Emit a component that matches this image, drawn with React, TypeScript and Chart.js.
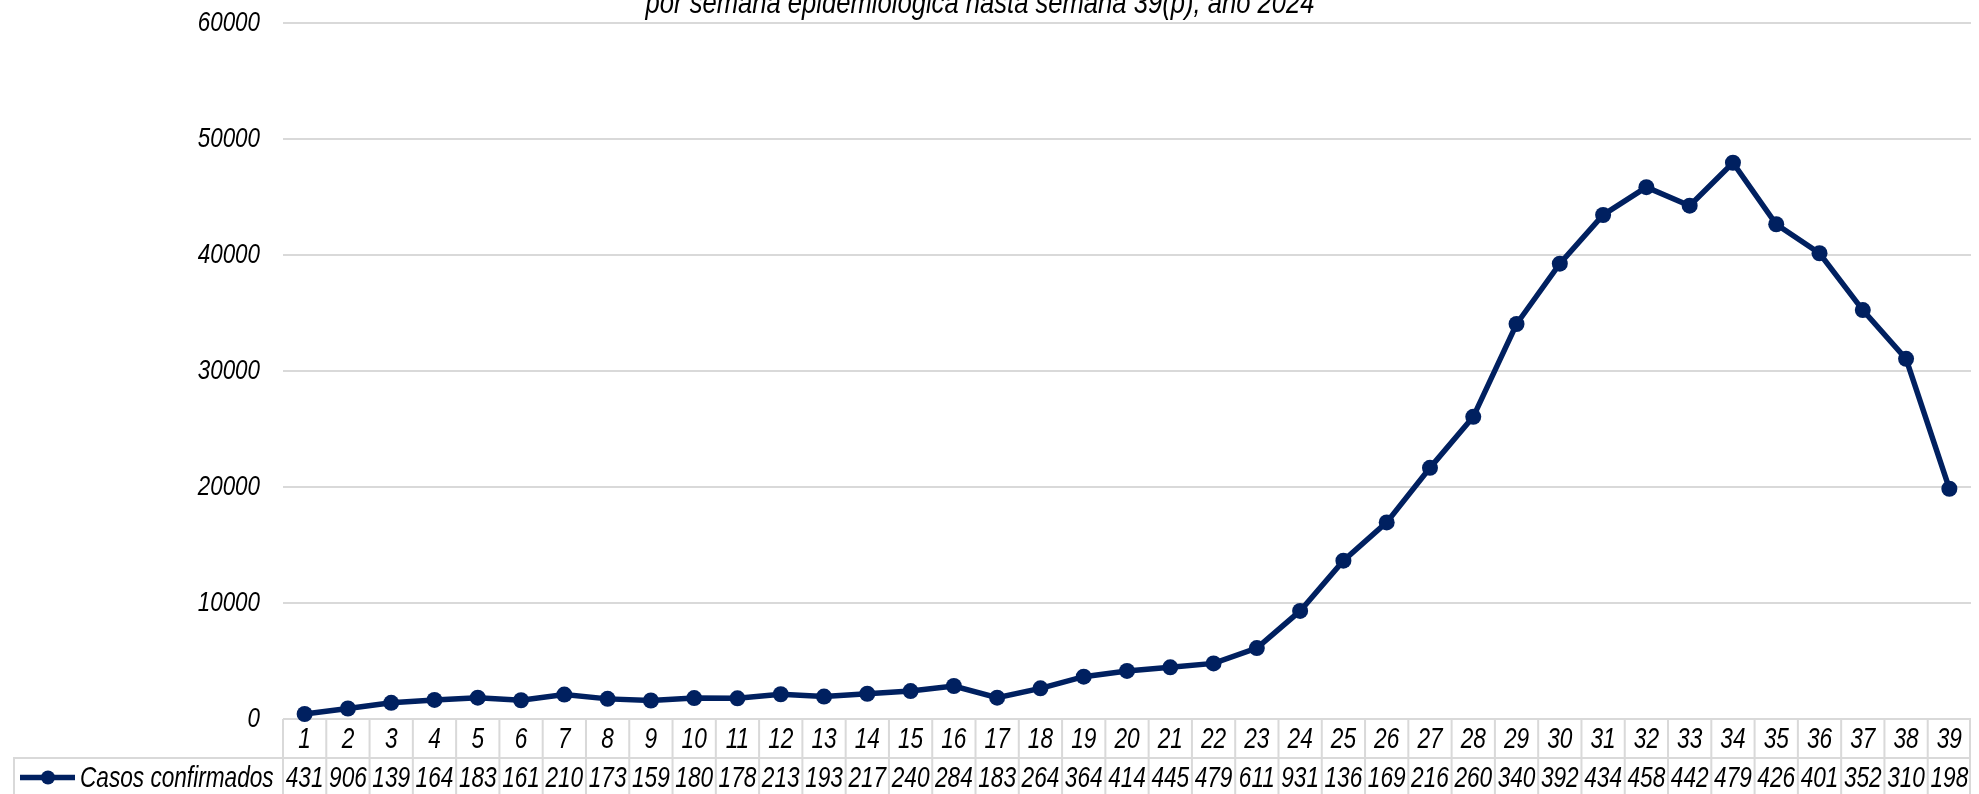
import React, { useEffect, useRef } from "react";
import { Chart, registerables } from "chart.js";

Chart.register(...registerables);

const weeks: string[] = Array.from({ length: 39 }, (_, i) => String(i + 1));
const cases: number[] = [
  431, 906, 1395, 1645, 1835, 1615, 2105, 1735, 1595, 1805, 1785, 2135, 1935,
  2175, 2405, 2845, 1835, 2645, 3645, 4145, 4455, 4795, 6115, 9315, 13650,
  16950, 21650, 26050, 34050, 39250, 43450, 45850, 44250, 47950, 42650, 40150,
  35250, 31050, 19850,
];
const yTicks: number[] = [0, 10000, 20000, 30000, 40000, 50000, 60000];
const seriesName = "Casos confirmados";
const titleText = "por semana epidemiológica hasta semana 39(p), año 2024";
// table cells are too narrow, so only the first three characters show
const tableLabels: string[] = cases.map((v) => String(v).slice(0, 3));

const FONT = '"Liberation Sans", Arial, sans-serif';
const NAVY = "#002060";
const GRID = "#d9d9d9";
const ROW_H = 39;

function narrowText(
  ctx: CanvasRenderingContext2D,
  text: string,
  x: number,
  y: number,
  size: number,
  align: CanvasTextAlign,
  squeeze = 0.78,
  baseline: CanvasTextBaseline = "middle"
) {
  ctx.save();
  ctx.translate(x, y);
  ctx.scale(squeeze, 1);
  ctx.font = `italic ${size}px ${FONT}`;
  ctx.textAlign = align;
  ctx.textBaseline = baseline;
  ctx.fillStyle = "#000";
  ctx.fillText(text, 0, 0);
  ctx.restore();
}

const tablePlugin = {
  id: "dataTable",
  beforeDatasetsDraw(chart: any) {
    const { ctx, chartArea } = chart;
    const left = chartArea.left;
    const right = chartArea.right;
    const top = chartArea.bottom;
    const mid = top + ROW_H;
    const bottom = mid + ROW_H;
    const n = weeks.length;
    const cw = (right - left) / n;
    ctx.save();
    ctx.strokeStyle = GRID;
    ctx.lineWidth = 2;
    ctx.beginPath();
    ctx.moveTo(left, top);
    ctx.lineTo(right, top);
    ctx.moveTo(13, mid);
    ctx.lineTo(right, mid);
    ctx.moveTo(13, bottom);
    ctx.lineTo(right, bottom);
    ctx.moveTo(14, mid);
    ctx.lineTo(14, bottom);
    for (let i = 0; i <= n; i++) {
      const xx = Math.min(left + i * cw, right - 1);
      ctx.moveTo(xx, top);
      ctx.lineTo(xx, bottom);
    }
    ctx.stroke();
    ctx.restore();
  },
  afterDraw(chart: any) {
    const { ctx, chartArea, scales } = chart;
    const x = scales.x;
    const y = scales.y;
    const top = chartArea.bottom;
    const mid = top + ROW_H;
    const n = weeks.length;
    ctx.save();
    for (let i = 0; i < n; i++) {
      const cx = x.getPixelForValue(i);
      narrowText(ctx, weeks[i], cx, top + ROW_H / 2 + 1, 29, "center");
      narrowText(ctx, tableLabels[i], cx, mid + ROW_H / 2 + 1, 29, "center");
    }
    // legend key
    const ly = mid + ROW_H / 2;
    ctx.strokeStyle = NAVY;
    ctx.lineWidth = 5.5;
    ctx.beginPath();
    ctx.moveTo(20, ly);
    ctx.lineTo(75, ly);
    ctx.stroke();
    ctx.fillStyle = NAVY;
    ctx.beginPath();
    ctx.arc(48, ly, 7, 0, Math.PI * 2);
    ctx.fill();
    narrowText(ctx, seriesName, 80, ly + 1, 29, "left");

    // y tick labels
    for (const v of yTicks) {
      narrowText(ctx, String(v), 260, y.getPixelForValue(v), 28, "right", 0.8);
    }

    // title (partly above the picture)
    narrowText(ctx, titleText, 980, 13, 32, "center", 0.8, "alphabetic");
    ctx.restore();
  },
};

export default function App() {
  const ref = useRef<HTMLCanvasElement | null>(null);
  useEffect(() => {
    document.body.style.margin = "0";
    if (!ref.current) return;
    const chart = new Chart(ref.current, {
      type: "line",
      data: {
        labels: weeks,
        datasets: [
          {
            label: seriesName,
            data: cases,
            borderColor: NAVY,
            backgroundColor: NAVY,
            borderWidth: 5.5,
            pointRadius: 8,
            pointBackgroundColor: NAVY,
            pointBorderColor: NAVY,
            pointBorderWidth: 0,
            tension: 0,
            clip: false as any,
          },
        ],
      },
      options: {
        responsive: false,
        animation: false,
        devicePixelRatio: 1,
        layout: { padding: { top: 23, bottom: 75, left: 0, right: 0 } },
        plugins: { legend: { display: false }, tooltip: { enabled: false }, title: { display: false } },
        scales: {
          x: { type: "category", display: false, offset: true },
          y: {
            min: yTicks[0],
            max: yTicks[yTicks.length - 1],
            afterBuildTicks: (s: any) => {
              s.ticks = yTicks.map((v) => ({ value: v }));
            },
            ticks: { display: false },
            grid: { color: GRID, lineWidth: 2, drawTicks: false },
            border: { display: false },
            afterFit: (s: any) => {
              s.width = 283;
            },
          },
        },
      },
      plugins: [tablePlugin],
    });
    return () => chart.destroy();
  }, []);
  return (
    <div style={{ width: 1979, height: 794 }}>
      <canvas ref={ref} width={1979} height={794} style={{ display: "block" }} />
    </div>
  );
}
